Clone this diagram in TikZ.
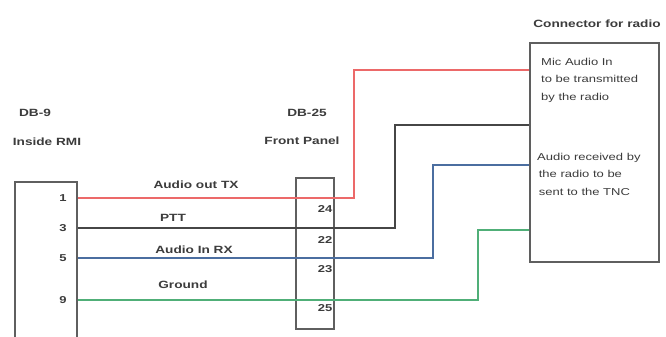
\documentclass[tikz,border=0pt]{standalone}
\usepackage{fontspec}
\setmainfont{Liberation Sans}[FakeStretch=1.3]
\definecolor{wred}{RGB}{236,105,105}
\definecolor{wgray}{RGB}{70,70,70}
\definecolor{wblue}{RGB}{75,110,160}
\definecolor{wgreen}{RGB}{80,175,120}
\definecolor{boxc}{RGB}{95,95,95}
\definecolor{txt}{RGB}{60,60,60}
\tikzset{
  wire/.style={line width=1.8pt},
  conbox/.style={draw=boxc, line width=1.2pt, inner sep=0pt},
  title/.style={font=\bfseries\fontsize{10.5}{12}\selectfont, text=txt, inner sep=0pt},
  wlabel/.style={font=\bfseries\fontsize{10.5}{12}\selectfont, text=txt, inner sep=0pt},
  pin/.style={font=\bfseries\fontsize{10}{11}\selectfont, text=txt, inner sep=0pt},
  note/.style={font=\fontsize{10}{17.5}\selectfont, text=txt, inner sep=0pt, align=left, anchor=west},
}
\begin{document}
\begin{tikzpicture}[x=1pt,y=-1pt]
\useasboundingbox (0,0) rectangle (666,337);
\clip (0,0) rectangle (666,337);
\fill[white] (0,0) rectangle (666,337);
% boxes
\node[conbox, minimum width=62pt, minimum height=163pt] (dbnine) at (46,263.5) {};
\node[conbox, minimum width=38pt, minimum height=151pt] (dbtf) at (315,253.5) {};
\node[conbox, minimum width=129pt, minimum height=219pt] (radio) at (594.5,152.5) {};
% titles
\node[title] (t1) at (35,113) {DB-9};
\node[title] (t2) at (47,142) {Inside RMI};
\node[title] (t3) at (307,113) {DB-25};
\node[title] (t4) at (302,141) {Front Panel};
\node[title] (t5) at (597,24) {Connector for radio};
% left pins
\node[pin] (p1) at (63,198) {1};
\node[pin] (p3) at (63,228) {3};
\node[pin] (p5) at (63,258) {5};
\node[pin] (p9) at (63,300) {9};
% db25 pins
\node[pin] (q1) at (325,209) {24};
\node[pin] (q2) at (325,240) {22};
\node[pin] (q3) at (325,269) {23};
\node[pin] (q4) at (325,308) {25};
% wire labels
\node[wlabel] (w1) at (196,185) {Audio out TX};
\node[wlabel] (w2) at (173,218) {PTT};
\node[wlabel] (w3) at (194,250) {Audio In RX};
\node[wlabel] (w4) at (183,285) {Ground};
% notes
\node[note] (n1) at (541,80) {Mic Audio In\\to be transmitted\\by the radio};
\node[note] (n2) at (537,174) {Audio received by\\\,the radio to be\\\,sent to the TNC};
% endpoints
\coordinate (l1) at (dbnine.east |- 0,198);
\coordinate (l3) at (dbnine.east |- 0,228);
\coordinate (l5) at (dbnine.east |- 0,258);
\coordinate (l9) at (dbnine.east |- 0,300);
\coordinate (r1) at (radio.west |- 0,70);
\coordinate (r2) at (radio.west |- 0,125);
\coordinate (r3) at (radio.west |- 0,165);
\coordinate (r4) at (radio.west |- 0,230);
\coordinate (c1) at (354,70);
\coordinate (c2) at (395,125);
\coordinate (c3) at (433,165);
\coordinate (c4) at (478,230);
% wires
\draw[wire, wred] (l1) -| (c1) -- (r1);
\draw[wire, wgray] (l3) -| (c2) -- (r2);
\draw[wire, wblue] (l5) -| (c3) -- (r3);
\draw[wire, wgreen] (l9) -| (c4) -- (r4);
\end{tikzpicture}
\end{document}
